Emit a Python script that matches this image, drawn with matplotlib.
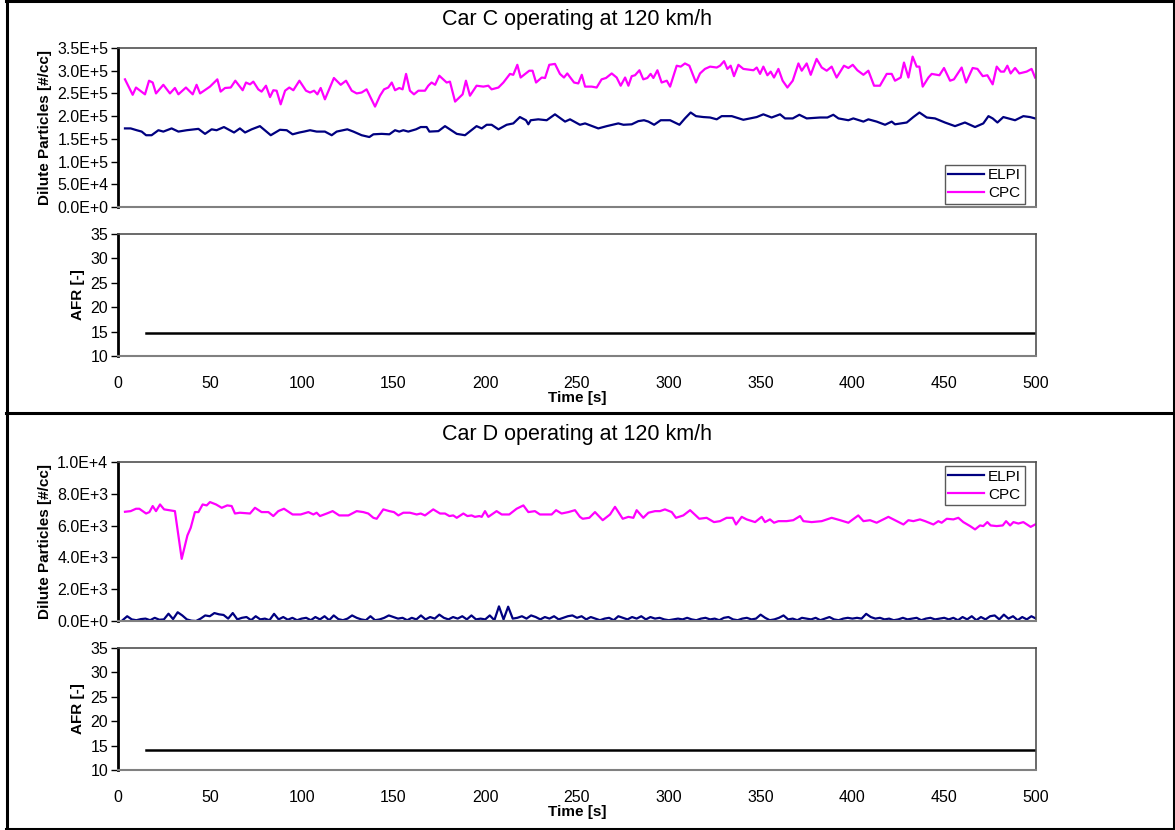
import numpy as np
import matplotlib
matplotlib.use('Agg')
import matplotlib.pyplot as plt
from matplotlib.lines import Line2D
from matplotlib.ticker import FuncFormatter, MultipleLocator

plt.rcParams['font.family'] = ['Liberation Sans', 'DejaVu Sans']

# ---- Car C (particles in units of 1e5 #/cc) ----
t_cpc_c = [3.8, 8.0, 9.8, 14.7, 16.9, 18.9, 20.7, 24.7, 28.3, 31.0, 32.9, 37.0, 40.7, 42.8, 44.7,
           50.1, 54.1, 55.9, 58.3, 61.4, 63.9, 67.9, 69.7, 71.9, 73.7, 76.4, 78.2, 80.6, 82.8, 84.6,
           86.4, 88.6, 91.0, 93.3, 95.5, 98.8, 102.4, 104.6, 106.8, 108.6, 110.4, 112.7, 117.6, 121.3,
           124.2, 127.3, 130.0, 132.7, 135.4, 140.0, 142.7, 144.9, 147.2, 149.1, 150.9, 153.2, 155.0,
           156.9, 159.0, 161.2, 163.6, 167.2, 169.0, 170.8, 172.7, 175.0, 179.0, 180.8, 183.6, 187.7,
           189.5, 191.7, 195.3, 199.0, 201.7, 203.5, 207.2, 209.9, 213.5, 215.3, 217.5, 219.3, 224.0,
           225.8, 227.7, 230.8, 232.6, 234.9, 238.0, 240.7, 242.9, 244.7,
           248.4, 250.7, 252.6, 254.4, 258.0, 260.7, 263.4, 265.8, 268.9, 271.6, 273.8, 276.2, 278.0,
           279.8, 281.6, 284.0, 286.1, 288.3, 290.1, 291.6, 293.8, 296.1, 298.9, 300.7, 304.3, 306.5,
           308.8, 311.2, 314.8, 317.0, 319.7, 322.5, 326.1, 327.9, 330.1, 331.9, 333.7, 335.5, 337.9,
           340.6, 346.1, 347.9, 349.7, 351.5, 353.7, 355.5, 357.3, 359.7, 362.0, 364.6, 367.5, 370.6,
           372.4, 375.1, 377.3, 380.5, 383.3, 386.0, 388.7, 391.4, 395.4, 397.8, 400.2, 402.7, 406.0,
           408.7, 411.8, 415.0, 418.7, 421.4, 423.2, 426.3, 428.1, 430.5, 432.8, 435.0, 436.5, 438.3,
           441.4, 443.2, 447.4, 449.9, 453.2, 455.3, 459.5, 461.9, 465.5, 468.1, 471.0, 473.5, 476.4,
           478.6, 480.8, 482.6, 484.4, 486.2, 488.6, 490.9, 494.9, 497.6, 499.5]
cpc_c = [2.81, 2.47, 2.63, 2.48, 2.78, 2.74, 2.50, 2.69, 2.50, 2.62, 2.48, 2.63, 2.48, 2.69, 2.50,
         2.65, 2.81, 2.54, 2.62, 2.63, 2.78, 2.57, 2.74, 2.70, 2.76, 2.59, 2.54, 2.67, 2.42, 2.57,
         2.56, 2.26, 2.56, 2.63, 2.57, 2.78, 2.56, 2.52, 2.56, 2.48, 2.62, 2.37, 2.84, 2.69,
         2.78, 2.56, 2.50, 2.52, 2.59, 2.21, 2.45, 2.59, 2.63, 2.74, 2.57, 2.62, 2.59,
         2.93, 2.56, 2.48, 2.56, 2.56, 2.67, 2.74, 2.69, 2.89, 2.74, 2.76, 2.32, 2.48,
         2.78, 2.45, 2.67, 2.65, 2.67, 2.59, 2.63, 2.74, 2.93, 2.91, 3.13, 2.85, 3.00,
         3.00, 2.74, 2.85, 2.84, 3.13, 3.15, 2.93, 2.85, 2.94,
         2.74, 2.72, 2.91, 2.65, 2.65, 2.63, 2.81, 2.84, 2.94, 2.85, 2.67, 2.85, 2.67,
         2.88, 2.90, 3.01, 2.81, 2.84, 2.93, 2.84, 3.01, 2.74, 2.78, 2.65, 3.11, 3.09,
         3.16, 3.11, 2.74, 2.94, 3.04, 3.09, 3.07, 3.11, 3.21, 3.04, 3.11, 2.88, 3.13,
         3.04, 3.01, 3.07, 2.93, 3.09, 2.90, 2.98, 2.85, 3.04, 2.78, 2.63, 2.78, 3.16,
         3.00, 3.16, 2.91, 3.26, 3.07, 3.00, 3.09, 2.85, 3.11, 3.06, 3.13, 3.01, 2.91,
         3.00, 2.67, 2.67, 2.93, 2.93, 2.78, 2.85, 3.18, 2.85, 3.31, 3.09, 3.09, 2.65,
         2.85, 2.93, 2.90, 3.06, 2.78, 2.81, 3.07, 2.74, 3.06, 3.04, 2.88, 2.90, 2.70,
         3.09, 2.98, 2.98, 3.11, 2.94, 3.06, 2.94, 2.98, 3.04, 2.85]

t_elpi_c = [3.8, 6.9, 10.2, 12.9, 15.3, 18.3, 22.0, 24.7, 29.2, 32.9, 37.4, 43.8, 47.4, 51.0, 53.7,
            57.7, 63.2, 66.4, 69.2, 72.8, 77.3, 83.2, 88.2, 91.9, 95.1, 98.8, 101.3, 104.6, 108.2,
            112.7, 116.4, 119.1, 124.9, 128.2, 132.7, 136.9, 139.1, 143.6, 147.8, 150.9, 153.2,
            155.4, 158.1, 162.3, 164.9, 168.1, 169.6, 174.5, 178.1, 184.5, 189.0, 195.3, 198.1,
            200.8, 203.5, 207.2, 211.7, 215.3, 218.9, 222.2, 223.5, 224.8, 228.9, 233.5, 238.0,
            243.5, 246.2, 251.6, 254.4, 261.6, 266.2, 272.5, 275.3, 279.8, 283.4, 286.5, 288.9,
            292.0, 295.6, 300.7, 305.8, 308.8, 311.9, 314.8, 318.8, 322.5, 326.1, 328.8, 334.3,
            340.6, 347.9, 351.5, 356.0, 360.6, 363.3, 367.5, 371.1, 375.1, 382.4, 386.4, 389.6,
            392.4, 397.8, 400.5, 406.0, 408.7, 413.2, 417.8, 421.4, 423.2, 429.6, 433.2, 436.5,
            440.5, 445.0, 450.4, 455.9, 461.3, 466.8, 471.3, 474.1, 476.4, 479.0, 482.2, 488.6,
            493.1, 496.7, 499.5]
elpi_c = [1.73, 1.73, 1.69, 1.66, 1.58, 1.58, 1.69, 1.66, 1.73, 1.66, 1.69, 1.72, 1.61, 1.71, 1.69,
          1.76, 1.64, 1.73, 1.64, 1.71, 1.78, 1.58, 1.70, 1.69, 1.60, 1.64, 1.66, 1.69, 1.66,
          1.66, 1.58, 1.66, 1.71, 1.66, 1.58, 1.54, 1.60, 1.61, 1.60, 1.69, 1.66,
          1.69, 1.66, 1.71, 1.76, 1.76, 1.66, 1.67, 1.78, 1.61, 1.58, 1.78, 1.73,
          1.81, 1.81, 1.71, 1.81, 1.84, 1.98, 1.91, 1.82, 1.91, 1.93, 1.91, 2.04,
          1.88, 1.93, 1.81, 1.84, 1.73, 1.78, 1.84, 1.81, 1.82, 1.89, 1.91, 1.88,
          1.81, 1.91, 1.91, 1.81, 1.95, 2.08, 2.00, 1.98, 1.97, 1.93, 2.00, 2.00,
          1.92, 1.98, 2.04, 1.97, 2.04, 1.95, 1.95, 2.03, 1.95, 1.97, 1.97, 2.03,
          1.95, 1.91, 1.95, 1.88, 1.93, 1.88, 1.81, 1.88, 1.82, 1.86, 1.98, 2.08,
          1.97, 1.95, 1.86, 1.78, 1.86, 1.76, 1.84, 2.00, 1.95, 1.86, 1.98, 1.91,
          2.00, 1.98, 1.95]

t_afr_c = [15, 100, 200, 300, 400, 500]
afr_c = [14.7, 14.7, 14.7, 14.7, 14.7, 14.7]

# ---- Car D (particles in units of 1e3 #/cc) ----
t_cpc_d = [3.8, 6.9, 9.8, 11.6, 15.3, 17.1, 18.9, 20.7, 22.9, 25.1, 31.0, 34.7, 37.8, 39.6, 41.9,
           43.8, 46.1, 48.3, 50.1, 53.4, 56.5, 59.5, 61.9, 63.7, 66.4, 71.9, 74.6, 78.2, 81.9, 84.6,
           87.3, 90.4, 95.1, 99.5, 103.7, 106.4, 108.2, 110.0, 113.7, 116.9, 120.5, 125.5, 130.0,
           133.6, 136.3, 139.1, 140.9, 144.5, 147.8, 150.3, 152.7, 155.4, 159.0, 162.7, 164.9,
           167.2, 171.7, 175.4, 178.1, 180.5, 182.6, 184.5, 188.1, 190.3, 192.6, 194.4, 196.8,
           198.1, 199.9, 201.7, 206.2, 209.0, 213.1, 217.1, 220.8, 223.5, 227.1, 229.8, 236.2,
           238.6, 241.6, 245.3, 248.9, 251.6, 253.1, 256.7, 259.8, 264.0, 268.0, 270.7, 274.9,
           278.0, 280.7, 282.5, 286.1, 288.9, 292.5, 295.2, 297.9, 301.6, 303.9, 307.9, 311.6,
           316.6, 320.6, 324.6, 327.9, 331.5, 334.8, 336.6, 339.7, 342.4, 347.0, 350.6, 352.4,
           355.1, 357.3, 359.7, 364.2, 367.8, 371.5, 373.3, 377.8, 383.3, 388.7, 393.3, 397.8,
           403.2, 406.0, 409.6, 413.2, 419.6, 423.2, 427.8, 430.5, 433.2, 436.8, 439.6, 444.1,
           446.8, 448.6, 451.4, 455.0, 457.7, 460.4, 464.1, 466.8, 469.5, 471.3, 473.5, 475.3,
           478.6, 481.9, 483.7, 485.9, 487.7, 490.4, 493.1, 497.1, 499.5]
cpc_d = [6.87, 6.91, 7.06, 7.06, 6.76, 6.85, 7.23, 6.91, 7.33, 7.02, 6.91, 3.91, 5.38, 5.86, 6.85,
         6.85, 7.33, 7.27, 7.48, 7.33, 7.12, 7.27, 7.23, 6.76, 6.81, 6.76, 7.12, 6.85, 6.85, 6.60,
         6.91, 7.06, 6.70, 6.70, 6.85, 6.70, 6.81, 6.60, 6.76, 6.91, 6.64, 6.64, 6.91,
         6.85, 6.76, 6.49, 6.43, 7.02, 6.91, 6.85, 6.64, 6.81, 6.81, 6.70, 6.76,
         6.64, 7.02, 6.76, 6.76, 6.60, 6.64, 6.49, 6.76, 6.60, 6.64, 6.55, 6.60,
         6.55, 6.91, 6.55, 6.91, 6.70, 6.70, 7.06, 7.27, 6.85, 6.91, 6.70, 6.70,
         6.97, 6.76, 6.85, 6.97, 6.55, 6.43, 6.49, 6.85, 6.34, 6.70, 7.18, 6.43,
         6.55, 6.49, 6.97, 6.49, 6.81, 6.91, 6.91, 7.02, 6.85, 6.49, 6.64, 6.97,
         6.43, 6.49, 6.22, 6.28, 6.49, 6.49, 6.07, 6.55, 6.39, 6.22, 6.55, 6.22,
         6.39, 6.18, 6.28, 6.28, 6.34, 6.60, 6.28, 6.22, 6.28, 6.49, 6.34, 6.18,
         6.64, 6.28, 6.34, 6.18, 6.55, 6.34, 6.07, 6.34, 6.28, 6.39, 6.28, 6.07,
         6.28, 6.18, 6.43, 6.39, 6.49, 6.22, 5.97, 5.76, 6.01, 5.97, 6.22, 6.01,
         5.97, 6.01, 6.28, 6.01, 6.22, 6.13, 6.22, 5.92, 6.07]

t_elpi_d = np.arange(2.5, 500.1, 2.5)
elpi_d = [0.05, 0.30, 0.10, 0.05, 0.12, 0.15, 0.05, 0.20, 0.08, 0.10, 0.46, 0.12, 0.55, 0.35, 0.10, 0.02, 0.00, 0.15, 0.35, 0.30,
          0.50, 0.42, 0.38, 0.15, 0.50, 0.10, 0.20, 0.25, 0.05, 0.30, 0.10, 0.15, 0.05, 0.45, 0.10, 0.25, 0.08, 0.20, 0.05, 0.15,
          0.20, 0.05, 0.25, 0.10, 0.30, 0.05, 0.35, 0.12, 0.05, 0.15, 0.35, 0.20, 0.10, 0.05, 0.30, 0.05, 0.10, 0.20, 0.35, 0.25,
          0.15, 0.20, 0.05, 0.20, 0.10, 0.35, 0.10, 0.25, 0.15, 0.40, 0.20, 0.10, 0.25, 0.15, 0.30, 0.10, 0.35, 0.10, 0.15, 0.10,
          0.35, 0.05, 0.92, 0.10, 0.90, 0.15, 0.20, 0.30, 0.15, 0.35, 0.25, 0.10, 0.25, 0.15, 0.30, 0.10, 0.20, 0.30, 0.35, 0.20,
          0.30, 0.10, 0.25, 0.15, 0.05, 0.15, 0.20, 0.05, 0.30, 0.20, 0.10, 0.25, 0.15, 0.30, 0.10, 0.25, 0.15, 0.20, 0.10, 0.05,
          0.10, 0.15, 0.10, 0.20, 0.10, 0.05, 0.15, 0.20, 0.10, 0.15, 0.05, 0.20, 0.25, 0.10, 0.05, 0.15, 0.20, 0.10, 0.15, 0.40,
          0.20, 0.05, 0.10, 0.20, 0.35, 0.10, 0.15, 0.05, 0.20, 0.15, 0.10, 0.20, 0.05, 0.15, 0.25, 0.10, 0.05, 0.15, 0.20, 0.15,
          0.20, 0.15, 0.45, 0.25, 0.15, 0.20, 0.10, 0.15, 0.05, 0.10, 0.20, 0.10, 0.15, 0.20, 0.05, 0.15, 0.20, 0.10, 0.15, 0.20,
          0.10, 0.20, 0.05, 0.25, 0.10, 0.30, 0.05, 0.25, 0.10, 0.30, 0.35, 0.10, 0.40, 0.15, 0.30, 0.05, 0.25, 0.10, 0.30, 0.15]

t_afr_d = [15, 100, 200, 300, 400, 500]
afr_d = [14.2, 14.2, 14.2, 14.2, 14.2, 14.2]

titles = ['Car C operating at 120 km/h', 'Car D operating at 120 km/h']

W, H = 1175, 830
ELPI_COLOR = '#000080'
CPC_COLOR = '#FF00FF'


def sci_label(v, pos):
    if v == 0:
        return '0.0E+0'
    e = int(np.floor(np.log10(abs(v)) + 1e-9))
    return f'{v / 10**e:.1f}E+{e}'


def px_axes(fig, left, top, right, bottom):
    return fig.add_axes([left / W, 1 - bottom / H, (right - left) / W, (bottom - top) / H])


def style_axes(ax):
    ax.spines['left'].set_color('black')
    ax.spines['left'].set_linewidth(2)
    for s in ['top', 'right']:
        ax.spines[s].set_color('#505050')
        ax.spines[s].set_linewidth(1.2)
    ax.spines['bottom'].set_color('#808080')
    ax.spines['bottom'].set_linewidth(1.5)
    ax.tick_params(axis='y', direction='out', length=5, width=1, labelsize=11.5, pad=2)
    ax.set_xlim(0, 500)
    ax.xaxis.set_major_locator(MultipleLocator(50))


def draw_car(fig, top_px, title, t_elpi, elpi, t_cpc, cpc, scale, ymax, ystep,
             t_afr, afr, legend_loc):
    fig.text(577 / W, 1 - (top_px + 20) / H, title, ha='center', va='center', fontsize=15.5)

    ax = px_axes(fig, 118, top_px + 48, 1036, top_px + 207)
    ax.plot(t_elpi, np.array(elpi) * scale, color=ELPI_COLOR, lw=1.6, label='ELPI')
    ax.plot(t_cpc, np.array(cpc) * scale, color=CPC_COLOR, lw=1.6, label='CPC')
    style_axes(ax)
    ax.set_ylim(0, ymax)
    ax.yaxis.set_major_locator(MultipleLocator(ystep))
    ax.yaxis.set_major_formatter(FuncFormatter(sci_label))
    ax.tick_params(axis='x', bottom=False, labelbottom=False)
    ax.set_ylabel('Dilute Particles [#/cc]', fontsize=11, fontweight='bold', labelpad=4)
    if legend_loc == 'lower right':
        anchor = (1 - 11 / 918, 3 / 159)
    else:
        anchor = (1 - 11 / 918, 1 - 4 / 158)
    leg = ax.legend(loc=legend_loc, bbox_to_anchor=anchor, fontsize=11, frameon=True,
                    fancybox=False, handlelength=2.3, handletextpad=0.3, borderpad=0.25,
                    labelspacing=0.25, borderaxespad=0)
    leg.get_frame().set_edgecolor('#303030')
    leg.get_frame().set_linewidth(1)

    ax2 = px_axes(fig, 118, top_px + 234, 1036, top_px + 356)
    ax2.plot(t_afr, afr, color='black', lw=1.8)
    style_axes(ax2)
    ax2.set_ylim(10, 35)
    ax2.yaxis.set_major_locator(MultipleLocator(5))
    ax2.tick_params(axis='x', bottom=False, labelsize=11.5, pad=11)
    ax2.set_ylabel('AFR [-]', fontsize=11, fontweight='bold', labelpad=4)
    ax2.set_xlabel('Time [s]', fontsize=11, fontweight='bold', labelpad=0)


fig = plt.figure(figsize=(W / 100, H / 100), dpi=100)

draw_car(fig, 0, titles[0], t_elpi_c, elpi_c, t_cpc_c, cpc_c, 1e5, 3.5e5, 5e4,
         t_afr_c, afr_c, 'lower right')
draw_car(fig, 414, titles[1], t_elpi_d, elpi_d, t_cpc_d, cpc_d, 1e3, 1e4, 2e3,
         t_afr_d, afr_d, 'upper right')

# table-cell borders around the two charts
border = dict(color='black', lw=2.2, transform=fig.transFigure)
for x0, y0, x1, y1 in [(6, 1.5, 1174, 1.5), (6, 413, 1174, 413), (6, 829, 1174, 829),
                       (6.5, 0, 6.5, 830), (1173.5, 0, 1173.5, 830)]:
    fig.add_artist(Line2D([x0 / W, x1 / W], [1 - y0 / H, 1 - y1 / H], **border))

fig.savefig('out.png', dpi=100)
